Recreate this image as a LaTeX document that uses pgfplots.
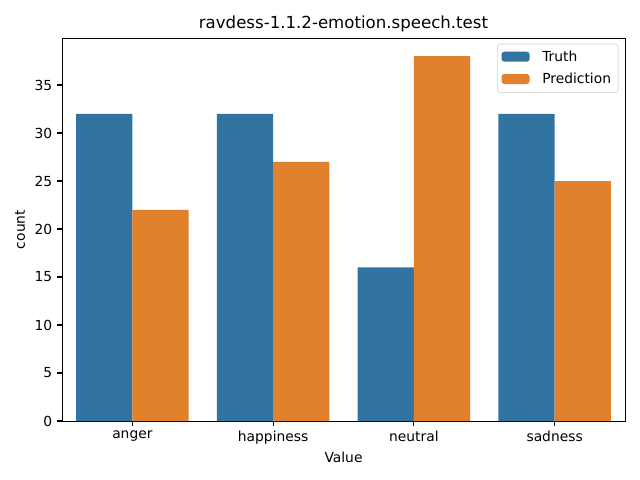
\documentclass[border=0pt]{standalone}
\usepackage{pgfplots}
\pgfplotsset{compat=1.18}
\usepackage{fontspec}
\setmainfont{DejaVu Sans}
\definecolor{sbblue}{HTML}{3274A1}
\definecolor{sborange}{HTML}{E1812C}
\begin{document}
\begin{tikzpicture}
\begin{axis}[
    scale only axis,
    width=5.63in, height=3.83in,
    xmin=-0.5, xmax=3.5,
    ymin=0, ymax=39.9,
    xtick={0,1,2,3},
    xticklabels={anger,happiness,neutral,sadness},
    ytick={0,5,10,15,20,25,30,35},
    tick align=outside,
    tick pos=left,
    major tick length=3.5pt,
    tick style={black, line width=0.8pt},
    axis line style={line width=0.7pt},
    /pgf/number format/assume math mode=true,
    tick label style={font=\fontsize{10}{12}\selectfont},
    label style={font=\fontsize{10}{12}\selectfont},
    xlabel={Value}, ylabel={count},
    xlabel style={yshift=1pt},
    title={ravdess-1.1.2-emotion.speech.test},
    title style={font=\fontsize{12}{14}\selectfont, yshift=-5pt},
    legend style={at={(0.988,0.985)}, anchor=north east, draw=black!20, rounded corners=2pt,
        font=\fontsize{10}{12}\selectfont, fill=white, row sep=3pt, inner sep=3pt},
    legend cell align=left,
    legend image code/.code={\fill[#1] (0in,-0.045in) rectangle (0.28in,0.055in);
        \path (0.38in,0);},
]
\addplot[ybar, bar width=0.4, bar shift=-0.2, fill=sbblue, draw=none]
    coordinates {(0,32) (1,32) (2,16) (3,32)};
\addlegendentry{Truth}
\addplot[ybar, bar width=0.4, bar shift=0.2, fill=sborange, draw=none]
    coordinates {(0,22) (1,27) (2,38) (3,25)};
\addlegendentry{Prediction}
\end{axis}
\useasboundingbox (-0.62in,-0.59in) rectangle (5.78in,4.21in);
\end{tikzpicture}
\end{document}
